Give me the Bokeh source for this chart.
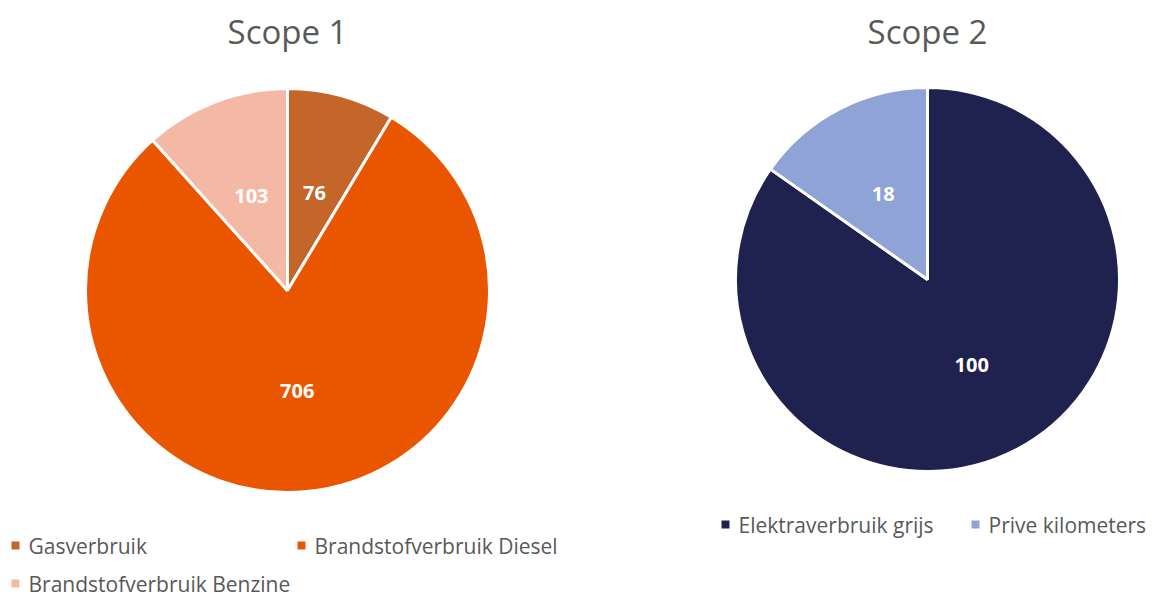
import math
from bokeh.plotting import figure
from bokeh.models import Range1d, ColumnDataSource
from bokeh.core.properties import value
from bokeh.embed import file_html
from bokeh.resources import INLINE

# ---- data ----
scope1_title = "Scope 1"
scope1_labels = ["Gasverbruik", "Brandstofverbruik Diesel", "Brandstofverbruik Benzine"]
scope1_values = [76, 706, 103]
scope1_colors = ["#C4652A", "#EA5600", "#F4B9A5"]

scope2_title = "Scope 2"
scope2_labels = ["Elektraverbruik grijs", "Prive kilometers"]
scope2_values = [100, 18]
scope2_colors = ["#1F214F", "#8FA3D6"]

FONT = "Open Sans"
TXT = "#595959"

W, H = 1152, 598
p = figure(width=W, height=H, output_backend="svg", toolbar_location=None,
           x_range=Range1d(0, W), y_range=Range1d(0, H),
           x_axis_location=None, y_axis_location=None, min_border=0)
p.grid.visible = False
p.outline_line_color = None
p.background_fill_color = "white"

def Y(sy):
    return H - sy

def pie(cx, cy, r, labels, values, colors, title, title_y):
    total = float(sum(values))
    cum = 0.0
    starts, ends, lx, ly = [], [], [], []
    for v in values:
        f = v / total
        a0 = math.pi / 2 - 2 * math.pi * cum
        a1 = math.pi / 2 - 2 * math.pi * (cum + f)
        starts.append(a0)
        ends.append(a1)
        mid = (a0 + a1) / 2
        lx.append(cx + 0.5 * r * math.cos(mid))
        ly.append(Y(cy) + 0.5 * r * math.sin(mid))
        cum += f
    src = ColumnDataSource(dict(x=[cx] * len(values), y=[Y(cy)] * len(values),
                                start=starts, end=ends, color=colors,
                                lx=lx, ly=ly, txt=[str(v) for v in values]))
    p.wedge(x="x", y="y", radius=r, start_angle="start", end_angle="end",
            direction="clock", fill_color="color", line_color="white",
            line_width=3, source=src)
    p.text(x="lx", y="ly", text="txt", source=src, text_color="white",
           text_font=value(FONT), text_font_style="bold", text_font_size="20px",
           text_align="center", text_baseline="middle")
    p.text(x=[cx], y=[Y(title_y)], text=[title], text_color=TXT,
           text_font=value(FONT), text_font_size="33px",
           text_align="center", text_baseline="middle")

pie(287, 290, 202, scope1_labels, scope1_values, scope1_colors, scope1_title, 31)
pie(927, 279, 192, scope2_labels, scope2_values, scope2_colors, scope2_title, 31)

def legend(items, colors, positions):
    for (lab, col, (sx, sy)) in zip(items, colors, positions):
        p.rect(x=[sx], y=[Y(sy)], width=8, height=8, fill_color=col, line_color=None)
        p.text(x=[sx + 13], y=[Y(sy)], text=[lab], text_color=TXT,
               text_font=value(FONT), text_font_size="21px",
               text_align="left", text_baseline="middle")

legend(scope1_labels, scope1_colors, [(15, 545), (301, 545), (15, 583)])
legend(scope2_labels, scope2_colors, [(725, 524), (975, 524)])

open("out.html", "w").write(file_html(p, INLINE))
